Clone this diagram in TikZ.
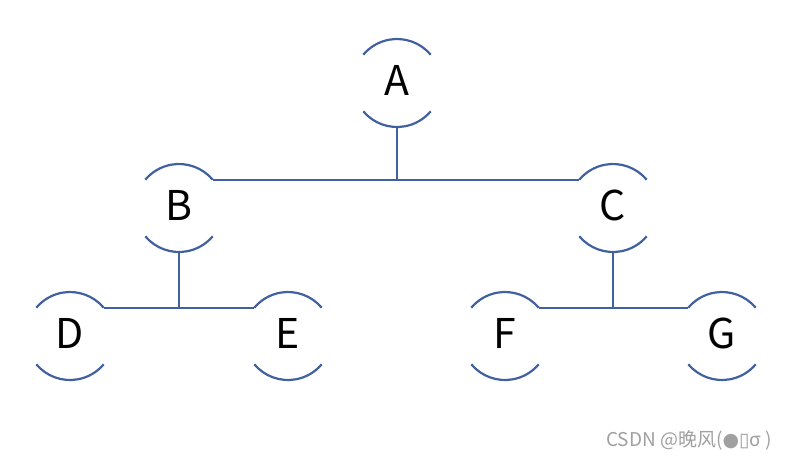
\documentclass[tikz,border=0pt]{standalone}
\usepackage{fontspec}
\setmainfont{Noto Sans CJK SC}
\newfontfamily\symfont{DejaVu Sans}
\definecolor{lineblue}{RGB}{64,96,160}
\definecolor{wmgray}{RGB}{160,160,160}
\begin{document}
\begin{tikzpicture}[x=1pt,y=-1pt,
  vert/.style={circle,minimum size=88pt,inner sep=0pt,outer sep=0pt},
  lab/.style={inner sep=0pt,text height=30pt,text depth=0pt,font=\fontsize{41}{41}\selectfont},
  arcline/.style={draw=lineblue,line width=2.2pt},
  conn/.style={draw=lineblue,line width=2.2pt}]
\useasboundingbox (0,0) rectangle (789,459);
\foreach \n/\x/\y in {A/397/83,B/179/208,C/613/208,D/70/336,E/288/336,F/505/336,G/722/336}{
  \node[vert] (\n) at (\x,\y) {};
  \node[lab] (\n-l) at (\x,\y-3) {\n};
  \draw[arcline] (\n.40) arc[start angle=-40,end angle=-140,radius=44];
  \draw[arcline] (\n.220) arc[start angle=140,end angle=40,radius=44];
}
\coordinate (jA) at (A.south |- B.40);
\coordinate (jB) at (B.south |- D.40);
\coordinate (jC) at (C.south |- F.40);
\draw[conn] (A.south) -- (jA);
\draw[conn] (B.40) -- (C.140);
\draw[conn] (B.south) -- (jB);
\draw[conn] (D.40) -- (E.140);
\draw[conn] (C.south) -- (jC);
\draw[conn] (F.40) -- (G.140);
\node[anchor=base west,inner sep=0pt,text=wmgray,font=\fontsize{19}{19}\selectfont] (wm) at (606,446) {CSDN @晚风({\symfont ●▯}σ )};
\end{tikzpicture}
\end{document}
